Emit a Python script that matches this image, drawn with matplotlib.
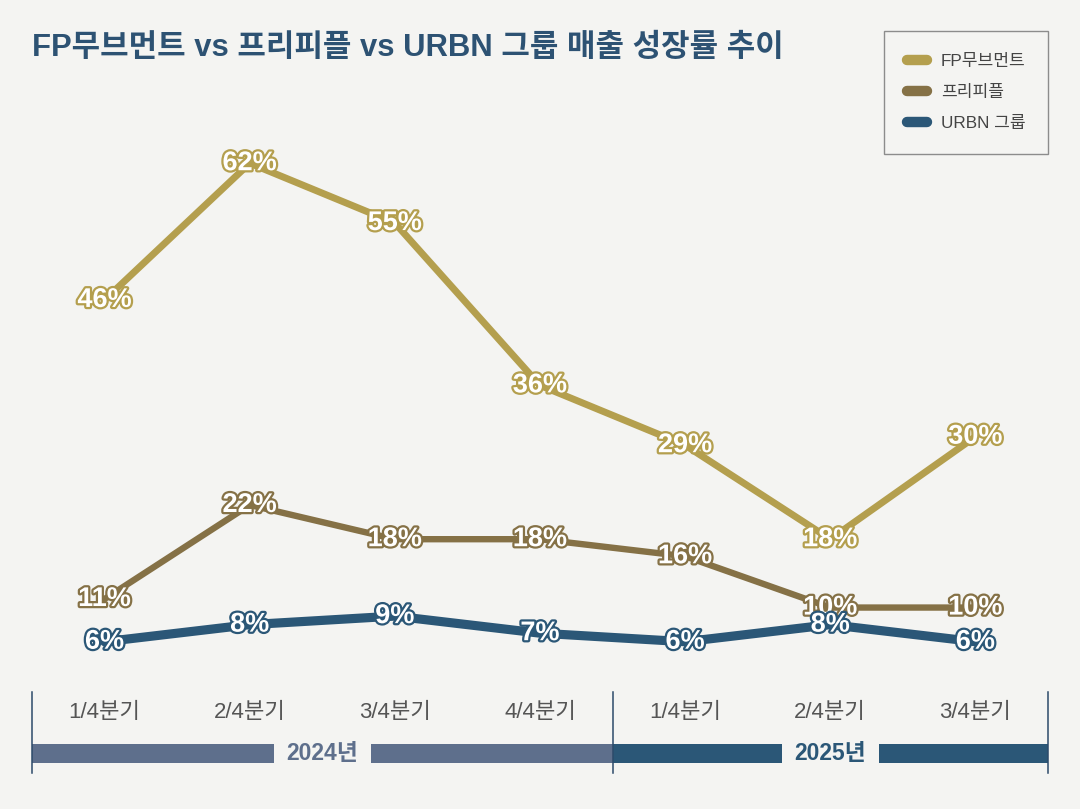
import matplotlib
matplotlib.use('Agg')
import matplotlib.pyplot as plt
import matplotlib.patheffects as pe
from matplotlib.lines import Line2D

plt.rcParams['font.family'] = ['Liberation Sans', 'Noto Sans CJK KR', 'DejaVu Sans']

# data
quarters = ['1/4분기', '2/4분기', '3/4분기', '4/4분기', '1/4분기', '2/4분기', '3/4분기']
years = ['2024년', '2025년']
year_quarters = [4, 3]
series_names = ['FP무브먼트', '프리피플', 'URBN 그룹']
fp_movement = [46, 62, 55, 36, 29, 18, 30]
free_people = [11, 22, 18, 18, 16, 10, 10]
urbn_group = [6, 8, 9, 7, 6, 8, 6]

colors = ['#b49f4e', '#857146', '#2b5777']
widths = [5.0, 4.6, 6.6]
year_colors = ['#5e6f8c', '#2b5777']
bg = '#f4f4f2'

fig = plt.figure(figsize=(10.8, 8.09), dpi=100, facecolor=bg)

ax = fig.add_axes([32/1080, 116/809, 1016/1080, 593/809])
ax.set_facecolor(bg)
x = list(range(len(quarters)))

handles = []
for vals, name, c, lw in zip([fp_movement, free_people, urbn_group], series_names, colors, widths):
    ax.plot(x, vals, color=c, lw=lw, solid_joinstyle='round', solid_capstyle='round', zorder=2)
    for xi, v in zip(x, vals):
        ax.text(xi, v, f'{v}%', ha='center', va='center', color='white',
                fontsize=19.5, fontweight='bold', zorder=5,
                path_effects=[pe.withStroke(linewidth=3.2, foreground=c)])
    handles.append(Line2D([0], [0], color=c, lw=7.5, solid_capstyle='round', label=name))

ax.set_xlim(-0.5, len(quarters) - 0.5)
ax.set_ylim(0, 69.4)
ax.axis('off')

# timeline under the chart
ax2 = fig.add_axes([32/1080, 36/809, 1016/1080, 81/809])
ax2.set_facecolor(bg)
ax2.set_xlim(-0.5, len(quarters) - 0.5)
ax2.set_ylim(0, 1)
ax2.axis('off')

for xi, q in zip(x, quarters):
    ax2.text(xi, 0.75, q, ha='center', va='center', fontsize=16, color='#555555')

start = -0.5
gap = 0.67
for yr, nq, yc in zip(years, year_quarters, year_colors):
    end = start + nq
    mid = (start + end) / 2
    ax2.barh(0.24, mid - gap/2 - start, left=start, height=0.235, color=yc, zorder=2)
    ax2.barh(0.24, end - (mid + gap/2), left=mid + gap/2, height=0.235, color=yc, zorder=2)
    ax2.text(mid, 0.24, yr, ha='center', va='center', fontsize=16.5,
             fontweight='bold', color=yc)
    ax2.axvline(start, color='#2c4a6a', lw=1.1, clip_on=False, zorder=3)
    start = end
ax2.axvline(start, color='#2c4a6a', lw=1.1, clip_on=False, zorder=3)

fig.text(32/1080, 1 - 48/809, 'FP무브먼트 vs 프리피플 vs URBN 그룹 매출 성장률 추이',
         ha='left', va='center', fontsize=22.3, fontweight='bold', color='#2d5273')

leg = fig.legend(handles=handles, loc='upper left', bbox_to_anchor=(884/1080, 1 - 31/809),
                 borderaxespad=0, fontsize=12.3, frameon=True, fancybox=False,
                 edgecolor='#8c8c8c', facecolor=bg, framealpha=1,
                 borderpad=1.32, labelspacing=0.95, handlelength=1.2, handletextpad=0.8,
                 labelcolor='#444444')
leg.get_frame().set_linewidth(1.0)

fig.savefig('out.png', dpi=100, facecolor=bg)
